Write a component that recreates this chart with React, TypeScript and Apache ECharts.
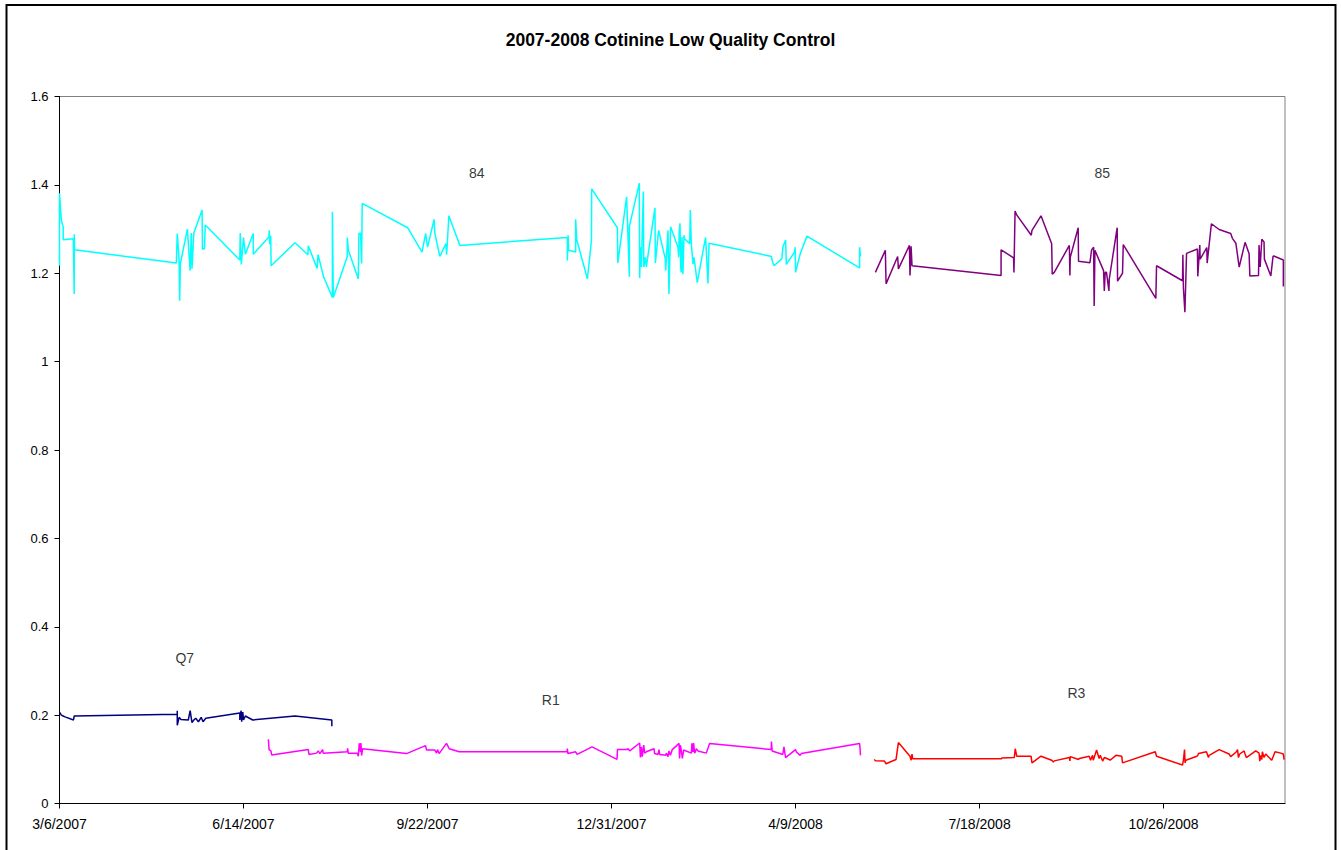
import React, { useEffect, useRef } from "react";
import * as echarts from "echarts";

// x values are days since 3/6/2007
const START_Y = 2007, START_M = 2, START_D = 6;
const X_MAX = 666;
const xTickDays = [0, 100, 200, 300, 400, 500, 600];
const Y_MAX = 1.6;
const Y_STEP = 0.2;

const seriesNames = ["84", "85", "Q7", "R1", "R3"];
const seriesColors = ["#00FFFF", "#800080", "#000080", "#FF00FF", "#FF0000"];

const s84 = [
  [0,1.217],[0,1.381],[1,1.32],[2,1.305],[2,1.276],[7.5,1.278],[8,1.153],[8,1.288],[8.2,1.253],
  [63.5,1.223],[64,1.29],[65,1.23],[65.3,1.138],[65.7,1.222],[69.5,1.3],[71,1.206],[71.6,1.291],[72,1.21],[73,1.291],
  [77.5,1.343],[77.7,1.254],[78.8,1.256],[79.2,1.309],[98,1.23],[98.2,1.291],[98.8,1.22],[100,1.281],[101,1.243],
  [105.3,1.29],[105.3,1.243],[113.8,1.282],[114,1.297],[114.3,1.265],[114.8,1.285],[115,1.217],[128,1.269],[135,1.242],
  [135.2,1.262],[140,1.211],[140.5,1.242],[143.5,1.192],[148.3,1.145],[148.3,1.339],[148.8,1.145],[156.4,1.238],
  [156.4,1.281],[157,1.252],[162.4,1.187],[162.7,1.29],[163.6,1.291],[164.2,1.222],[164.5,1.358],[189.2,1.303],
  [197,1.248],[199,1.29],[200,1.259],[203.6,1.322],[204,1.29],[206.7,1.238],[210,1.267],[210.4,1.242],[211.6,1.33],
  [217.6,1.263],[276,1.281],[276,1.229],[276.4,1.286],[276.7,1.252],[280.5,1.248],[280.5,1.322],[281.1,1.276],
  [286.9,1.187],[289.1,1.275],[289.2,1.391],[303.2,1.303],[303.4,1.223],[308.2,1.373],[309.7,1.192],[309.7,1.306],
  [315.1,1.404],[315.3,1.189],[315.5,1.229],[316,1.259],[316.2,1.214],[317.3,1.385],[317.5,1.214],[318.4,1.236],
  [318.9,1.214],[323.6,1.348],[323.8,1.223],[325.6,1.297],[329.2,1.233],[329.4,1.206],[330.7,1.297],[331.2,1.153],
  [332.1,1.305],[336.1,1.259],[336.5,1.236],[336.8,1.297],[337.2,1.313],[337.6,1.214],[337.9,1.202],[338.3,1.282],
  [338.8,1.198],[339.4,1.286],[339.7,1.278],[342.5,1.267],[342.8,1.343],[343.4,1.265],[344.3,1.221],[344.8,1.236],
  [346.6,1.179],[351.1,1.281],[351.5,1.252],[352.4,1.177],[353,1.268],[387,1.238],[387.2,1.23],[388.3,1.217],
  [392.6,1.233],[393.1,1.259],[394.6,1.275],[395,1.22],[399.5,1.248],[399.8,1.259],[400,1.202],[402.5,1.243],
  [402.9,1.248],[406.2,1.284],[434.8,1.212],[434.8,1.259],[435.3,1.238],
];

const s85 = [
  [443.4,1.202],[448.8,1.252],[449.2,1.176],[455.5,1.238],[455.9,1.21],[461.9,1.263],[462.2,1.195],[462.8,1.261],
  [463.3,1.217],[511.7,1.195],[511.7,1.253],[518.5,1.235],[518.7,1.202],[519.3,1.341],[520.2,1.332],[528.1,1.286],
  [528.5,1.297],[533.4,1.33],[539.2,1.267],[539.5,1.198],[540.6,1.202],[548.8,1.263],[549.1,1.195],[549.3,1.236],
  [553.6,1.303],[553.8,1.227],[560,1.224],[560.9,1.253],[562,1.259],[562.3,1.126],[562.7,1.252],[567.4,1.206],
  [567.8,1.16],[568.3,1.202],[569,1.202],[570.3,1.16],[570.5,1.187],[574.8,1.303],[575,1.182],[577.7,1.2],
  [578.1,1.265],[595.8,1.143],[596.2,1.217],[610.3,1.183],[610.5,1.242],[610.8,1.166],[611.6,1.112],[612.5,1.245],
  [618.4,1.255],[618.6,1.193],[619.7,1.264],[619.9,1.232],[623.5,1.258],[623.7,1.223],[626,1.312],[630.2,1.299],
  [636.5,1.29],[637.4,1.279],[639.3,1.268],[641.1,1.214],[644.3,1.27],[646.5,1.244],[646.9,1.194],[651.6,1.195],
  [651.9,1.264],[652.5,1.214],[653.4,1.277],[654.6,1.271],[654.8,1.232],[658.3,1.194],[659.5,1.238],[659.9,1.239],
  [665.1,1.23],[665.1,1.17],
];

const sQ7 = [
  [0,0.207],[1,0.2],[2,0.198],[3,0.196],[7.6,0.189],[8,0.198],[64,0.202],[64,0.21],[64,0.177],[65,0.195],
  [66,0.19],[70,0.189],[71,0.21],[72,0.183],[73,0.189],[74,0.193],[75.5,0.185],[77,0.195],[78,0.185],[79.5,0.193],
  [98,0.205],[98,0.189],[98.7,0.21],[99,0.185],[99.6,0.207],[100,0.189],[101,0.198],[105,0.189],[128,0.198],
  [148,0.189],[148,0.175],[148,0.183],
];

const sR1 = [
  [113.5,0.145],[113.9,0.122],[114.9,0.119],[115.3,0.11],[135.2,0.122],[135.6,0.111],[139.7,0.114],[140.6,0.119],
  [141.5,0.113],[143,0.122],[143.3,0.114],[156.4,0.117],[156.6,0.125],[156.9,0.114],[161.8,0.114],[162.4,0.107],
  [162.9,0.136],[163.6,0.117],[163.8,0.137],[164.2,0.109],[164.7,0.124],[188.6,0.113],[198.9,0.131],[199.5,0.121],
  [204,0.121],[204.9,0.114],[205.4,0.122],[206.3,0.113],[210.3,0.136],[211.8,0.124],[217.2,0.117],[275.8,0.117],
  [276,0.124],[276.3,0.113],[280.5,0.117],[281.3,0.111],[289.4,0.128],[303,0.1],[303.2,0.122],[308.4,0.122],
  [309,0.124],[309.9,0.119],[315.3,0.137],[315.7,0.104],[316.2,0.128],[316.7,0.106],[317.5,0.132],[318,0.114],
  [318.9,0.117],[323.1,0.124],[323.4,0.113],[325.3,0.111],[325.8,0.122],[326.2,0.111],[329.4,0.109],[329.8,0.114],
  [330.7,0.106],[331.2,0.119],[332,0.109],[333,0.122],[336.7,0.136],[337,0.102],[337.4,0.132],[337.9,0.121],
  [338.5,0.102],[339.2,0.121],[343.4,0.114],[343.7,0.136],[344.3,0.117],[344.6,0.137],[345.2,0.114],[346.1,0.124],
  [347,0.119],[351.5,0.114],[353.3,0.136],[386.8,0.122],[386.9,0.14],[387.3,0.119],[393.1,0.111],[393.7,0.128],
  [394.6,0.104],[400,0.122],[400.4,0.117],[402.5,0.109],[403.1,0.113],[434.8,0.136],[435.1,0.122],[435.3,0.109],
];

const sR3 = [
  [442.8,0.1],[443.4,0.0965],[448.3,0.096],[449.2,0.09],[454.6,0.0995],[455.9,0.138],[462.2,0.107],[462.8,0.098],
  [463.3,0.112],[463.7,0.101],[511.7,0.101],[512.2,0.103],[518.9,0.104],[519.4,0.124],[520.2,0.107],[528,0.107],
  [528.5,0.092],[533.4,0.107],[539.2,0.098],[540.1,0.094],[540.6,0.0965],[548.8,0.104],[549.1,0.0965],[549.3,0.106],
  [553.8,0.0995],[554.2,0.102],[559.6,0.107],[560.3,0.098],[561.4,0.109],[561.8,0.098],[563.6,0.121],[565,0.102],
  [565.6,0.109],[566.9,0.096],[567.8,0.104],[570.5,0.0995],[571,0.098],[574.1,0.109],[577.3,0.107],[577.7,0.092],
  [595.5,0.117],[596.2,0.107],[610.3,0.087],[610.8,0.098],[611.4,0.122],[611.7,0.092],[612.1,0.098],[618.1,0.107],
  [618.6,0.109],[619,0.113],[623.3,0.117],[624.4,0.104],[624.8,0.109],[630.2,0.122],[635.6,0.112],[636.5,0.106],
  [639.6,0.117],[640.2,0.122],[640.7,0.104],[641.4,0.112],[643.8,0.119],[644.3,0.112],[645,0.104],[650.1,0.119],
  [651.9,0.114],[652.3,0.096],[652.8,0.109],[653.4,0.0995],[653.7,0.117],[654.6,0.104],[655.5,0.112],[658.8,0.098],
  [660.6,0.117],[663.7,0.114],[665.1,0.112],[665.5,0.0995],
];

const seriesData = [s84, s85, sQ7, sR1, sR3];

// Series name labels placed in data coordinates [day, value]
const labelPositions = [
  [226.8, 1.427],
  [566.7, 1.427],
  [68.1, 0.329],
  [267, 0.234],
  [552.6, 0.25],
];

const FONT = "'Liberation Sans', Arial, sans-serif";

function fmtDate(day: number): string {
  const d = new Date(START_Y, START_M, START_D + Math.round(day));
  return `${d.getMonth() + 1}/${d.getDate()}/${d.getFullYear()}`;
}

export default function App() {
  const ref = useRef<HTMLDivElement>(null);
  useEffect(() => {
    if (!ref.current) return;
    const chart = echarts.init(ref.current, null, { renderer: "svg" });
    chart.setOption({
      animation: false,
      backgroundColor: "#ffffff",
      title: {
        text: "2007-2008 Cotinine Low Quality Control",
        left: "center",
        top: 26,
        textStyle: { fontFamily: FONT, fontSize: 17.5, fontWeight: "bold", color: "#000" },
      },
      graphic: [
        {
          type: "rect",
          shape: { x: 6.5, y: 5, width: 1329, height: 880 },
          style: { fill: "none", stroke: "#000", lineWidth: 2 },
          silent: true,
        },
      ],
      grid: {
        left: 59.5,
        right: 56,
        top: 96.5,
        bottom: 46.5,
        show: true,
        borderColor: "#808080",
        borderWidth: 1,
        backgroundColor: "transparent",
      },
      xAxis: {
        type: "value",
        min: 0,
        max: X_MAX,
        interval: 100,
        axisLine: { show: true, onZero: false, lineStyle: { color: "#000", width: 1 } },
        axisTick: { show: true, inside: false, length: 5, customValues: xTickDays, lineStyle: { color: "#000" } },
        axisLabel: {
          customValues: xTickDays,
          formatter: (v: number) => fmtDate(v),
          fontFamily: FONT,
          fontSize: 14,
          color: "#000",
          margin: 13,
        },
        splitLine: { show: false },
      },
      yAxis: {
        type: "value",
        min: 0,
        max: Y_MAX,
        interval: Y_STEP,
        axisLine: { show: true, lineStyle: { color: "#000", width: 1 } },
        axisTick: { show: true, inside: false, length: 5, lineStyle: { color: "#000" } },
        axisLabel: {
          fontFamily: FONT,
          fontSize: 13,
          color: "#000",
          margin: 11,
        },
        splitLine: { show: false },
      },
      series: [
        ...seriesData.map((data, i) => ({
          name: seriesNames[i],
          type: "line",
          data,
          showSymbol: false,
          symbol: "none",
          lineStyle: { color: seriesColors[i], width: 1.5 },
          itemStyle: { color: seriesColors[i] },
          z: 3,
        })),
        {
          name: "labels",
          type: "scatter",
          symbolSize: 0,
          data: labelPositions.map((p, i) => ({ value: p, name: seriesNames[i] })),
          label: {
            show: true,
            position: "inside",
            formatter: (p: any) => p.name,
            fontFamily: FONT,
            fontSize: 14,
            color: "#000",
          },
          z: 4,
        },
      ],
    });
    return () => chart.dispose();
  }, []);
  return (
    <div
      ref={ref}
      style={{ position: "absolute", left: 0, top: 0, width: 1341, height: 850 }}
    />
  );
}
